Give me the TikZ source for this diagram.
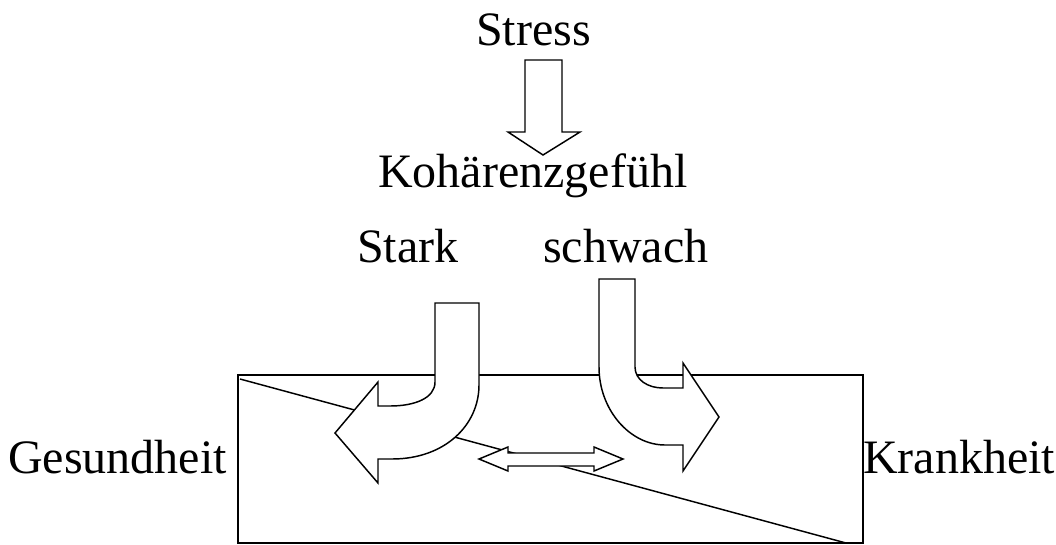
\documentclass[tikz,border=0pt]{standalone}
\usepackage{fontspec}
\setmainfont{Liberation Serif}
\tikzset{
	blockarrow/.style={draw, fill=white, line width=1.1pt, line join=miter},
	lbl/.style={anchor=base west, inner sep=0pt, font=\fontsize{36}{40}\selectfont}
}
\begin{document}
\begin{tikzpicture}[x=0.75pt, y=-0.75pt]
		\useasboundingbox (0,0) rectangle (1056,544);
		% Feld zwischen Gesundheit und Krankheit
		\draw[line width=1.1pt] (238,375) rectangle (863,543);
		\draw[line width=1.1pt] (240,379) -- (846,543);
		% Stress-Pfeil
		\draw[blockarrow] (525,60) -- (525,132) -- (508,132) -- (543,155) -- (580,132) -- (562,132) -- (562,60) -- cycle;
		% stark: nach links
		\draw[blockarrow] (435,303) -- (435,382) .. controls (435,398) and (415,406) .. (390,406) -- (378,406) -- (378,382) -- (335,433) -- (378,483) -- (378,459) -- (392,459) .. controls (445,459) and (479,425) .. (479,385) -- (479,303) -- cycle;
		% schwach: nach rechts
		\draw[blockarrow] (599,279) -- (599,367) .. controls (599,410) and (630,445) .. (665,445) -- (683,445) -- (683,471) -- (719,417) -- (683,363) -- (683,388) -- (663,388) .. controls (648,388) and (635,380) .. (635,367) -- (635,279) -- cycle;
		% Doppelpfeil
		\draw[blockarrow] (479,459) -- (508,447) -- (508,453) -- (594,453) -- (594,447) -- (623,459) -- (594,471) -- (594,466) -- (508,466) -- (508,471) -- cycle;
		\node[lbl] (stress) at (476,45) {Stress};
		\node[lbl] (koh) at (378,187) {Kohärenzgefühl};
		\node[lbl] (stark) at (357,262) {Stark};
		\node[lbl] (schwach) at (543,262) {schwach};
		\node[lbl] (gesund) at (8,473) {Gesundheit};
		\node[lbl] (krank) at (863,473) {Krankheit};
	\end{tikzpicture}
\end{document}
